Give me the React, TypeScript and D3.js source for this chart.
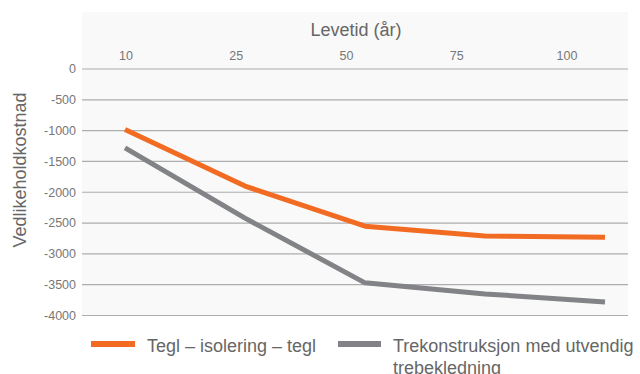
import React from "react";
import * as d3 from "d3";

const categories = ["10", "25", "50", "75", "100"];
const seriesNames = ["Tegl – isolering – tegl", "Trekonstruksjon med utvendig trebekledning"];
const teglValues = [-980, -1900, -2550, -2710, -2730];
const treValues = [-1280, -2420, -3470, -3650, -3780];
const yTicks = [0, -500, -1000, -1500, -2000, -2500, -3000, -3500, -4000];
const colors = ["#F26B22", "#828387"];

const W = 640;
const H = 374;
const plot = { left: 82, right: 628, top: 12, bottom: 316 };
const font = "'Liberation Sans', Arial, sans-serif";

export default function App() {
  const y = d3.scaleLinear().domain([0, -4000]).range([69, 315.5]);
  const xData = d3.scalePoint<string>().domain(categories).range([125, 605]);
  const xLabel = d3.scalePoint<string>().domain(categories).range([126, 567]);
  const line = d3
    .line<number>()
    .x((_, i) => xData(categories[i]) as number)
    .y((d) => y(d));
  const series = [teglValues, treValues];

  return (
    <svg width={W} height={H} style={{ position: "absolute", left: 0, top: 0 }}>
      <rect x={plot.left} y={plot.top} width={plot.right - plot.left} height={plot.bottom - plot.top} fill="#f9f9f9" />
      {yTicks.map((t) => (
        <g key={t}>
          <line x1={plot.left} x2={plot.right} y1={y(t)} y2={y(t)} stroke="#adadad" strokeWidth={1.2} />
          <text x={76} y={y(t)} dy="0.35em" textAnchor="end" fontFamily={font} fontSize={12.5} fill="#777">
            {t}
          </text>
        </g>
      ))}
      {categories.map((c) => (
        <text key={c} x={xLabel(c)} y={60} textAnchor="middle" fontFamily={font} fontSize={12.5} fill="#777">
          {c}
        </text>
      ))}
      <text x={356} y={36} textAnchor="middle" fontFamily={font} fontSize={18} fill="#666">
        Levetid (år)
      </text>
      <text transform={`translate(26,170) rotate(-90)`} textAnchor="middle" fontFamily={font} fontSize={18} fill="#666">
        Vedlikeholdkostnad
      </text>
      {series.map((s, i) => (
        <path key={i} d={line(s) || ""} fill="none" stroke={colors[i]} strokeWidth={5} strokeLinejoin="round" />
      ))}
      <line x1={91} x2={135} y1={344} y2={344} stroke={colors[0]} strokeWidth={6} />
      <text x={147} y={352} fontFamily={font} fontSize={18} fill="#666">
        {seriesNames[0]}
      </text>
      <line x1={338} x2={381} y1={344} y2={344} stroke={colors[1]} strokeWidth={6} />
      <text x={393} y={352} fontFamily={font} fontSize={18} fill="#666">
        <tspan x={393}>Trekonstruksjon med utvendig</tspan>
        <tspan x={393} dy={22}>trebekledning</tspan>
      </text>
    </svg>
  );
}
